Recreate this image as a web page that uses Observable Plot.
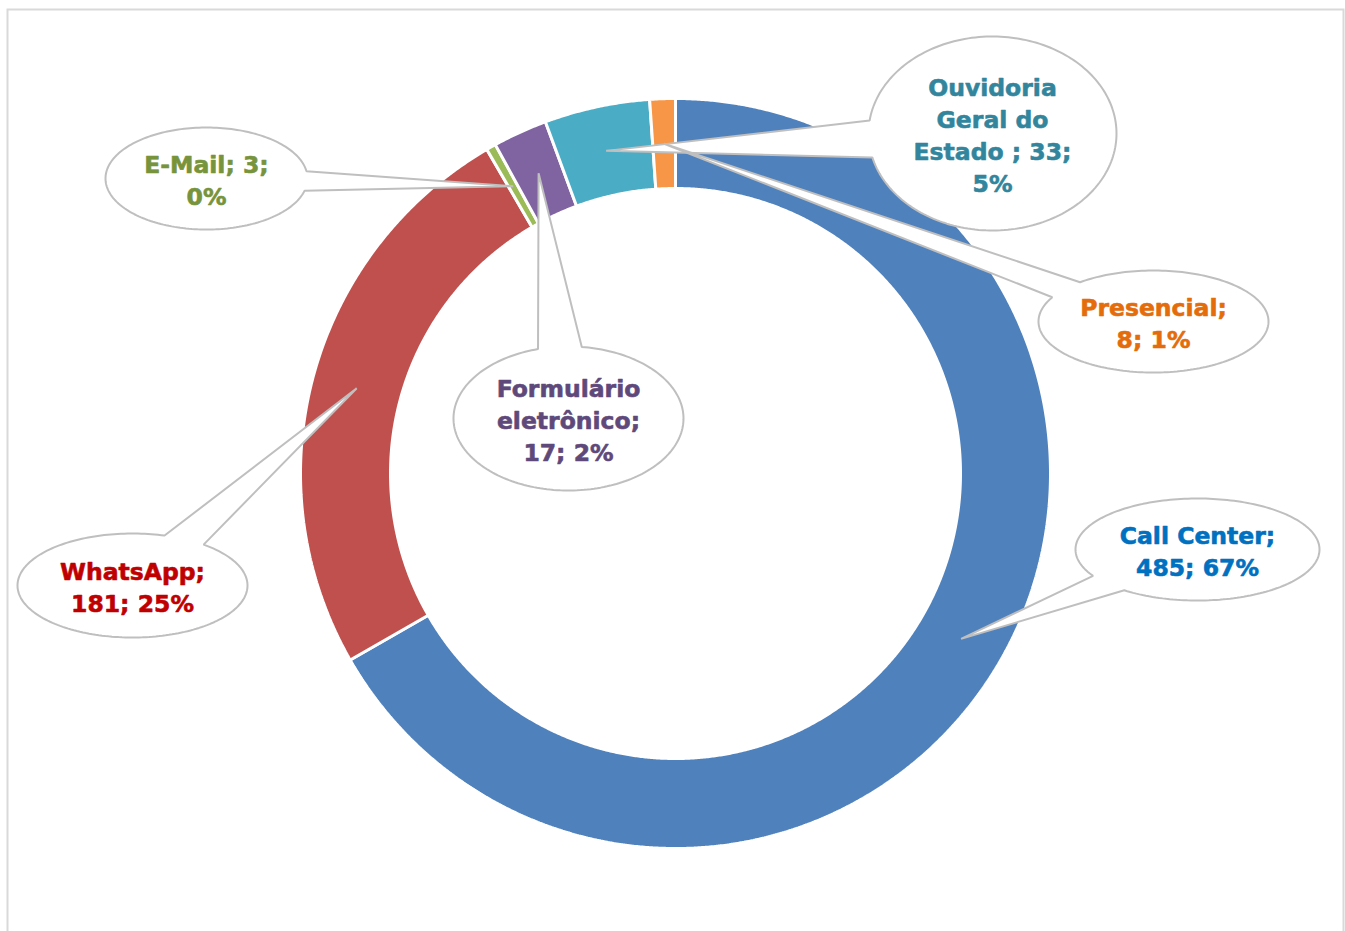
<!DOCTYPE html>
<html>
<head>
<meta charset="utf-8">
<script src="https://cdn.jsdelivr.net/npm/d3@7"></script>
<script src="https://cdn.jsdelivr.net/npm/@observablehq/plot@0.6"></script>
<style>
  html, body { margin: 0; padding: 0; background: #fff; }
  #chart svg { display: block; }
</style>
</head>
<body>
<div id="chart"></div>
<script>
// ---- data ----
const categories = ["Call Center", "WhatsApp", "E-Mail", "Formulário eletrônico", "Ouvidoria Geral do Estado", "Presencial"];
const values = [485, 181, 3, 17, 33, 8];
const labels = [
  "Call Center;\n485; 67%",
  "WhatsApp;\n181; 25%",
  "E-Mail; 3;\n0%",
  "Formulário\neletrônico;\n17; 2%",
  "Ouvidoria\nGeral do\nEstado ; 33;\n5%",
  "Presencial;\n8; 1%"
];
const sliceColors = ["#4F81BD", "#C0504D", "#9BBB59", "#8064A2", "#4BACC6", "#F79646"];
const labelColors = ["#0070C0", "#C00000", "#77933C", "#5F497A", "#31859C", "#E46C0A"];
// callout ellipse layout (center x, center y, rx, ry)
const calloutBoxes = [
  [1197, 549, 122, 51],
  [132, 585, 115, 52],
  [206, 178, 101, 51],
  [568, 418, 115, 72],
  [992, 133, 124, 97],
  [1153, 321, 115, 51]
];

// ---- geometry ----
const W = 1345, H = 931;
const CX = 675, CY = 473, R_OUT = 375, R_IN = 285;
const pie = d3.pie().sort(null).value(d => d)(values);
const pt = (r, a) => [CX + r * Math.sin(a), CY - r * Math.cos(a)];

const slicePts = [];
pie.forEach((p, i) => {
  const n = Math.max(4, Math.ceil((p.endAngle - p.startAngle) / 0.005));
  for (let k = 0; k <= n; k++) {
    const a = p.startAngle + (p.endAngle - p.startAngle) * k / n;
    const [x, y] = pt(R_OUT, a);
    slicePts.push({x, y, z: i, fill: sliceColors[i]});
  }
  for (let k = n; k >= 0; k--) {
    const a = p.startAngle + (p.endAngle - p.startAngle) * k / n;
    const [x, y] = pt(R_IN, a);
    slicePts.push({x, y, z: i, fill: sliceColors[i]});
  }
});

// callouts: ellipse with wedge tail pointing at slice centroid
const calloutPts = [];
const tips = pie.map(p => pt((R_OUT + R_IN) / 2, (p.startAngle + p.endAngle) / 2));
calloutBoxes.forEach(([cx, cy, rx, ry], i) => {
  const [tx, ty] = tips[i];
  const pang = Math.atan2((ty - cy) / ry, (tx - cx) / rx);
  const half = 11 * Math.PI / 180;
  const start = pang + half, span = 2 * Math.PI - 2 * half;
  const n = 200;
  for (let k = 0; k <= n; k++) {
    const t = start + span * k / n;
    calloutPts.push({x: cx + rx * Math.cos(t), y: cy + ry * Math.sin(t), z: i});
  }
  calloutPts.push({x: tx, y: ty, z: i});
});

const labelData = calloutBoxes.map(([cx, cy], i) => ({x: cx, y: cy, text: labels[i], fill: labelColors[i]}));

const chart = Plot.plot({
  width: W,
  height: H,
  margin: 0,
  x: {domain: [0, W], range: [0, W], axis: null},
  y: {domain: [0, H], range: [0, H], axis: null},
  color: {type: "identity"},
  style: {background: "#fff"},
  marks: [
    Plot.frame({stroke: "#d9d9d9", strokeWidth: 2, insetLeft: 7, insetTop: 9, insetRight: 2, insetBottom: -10}),
    Plot.line(slicePts, {x: "x", y: "y", z: "z", fill: "fill", stroke: "#ffffff", strokeWidth: 3, curve: "linear-closed", strokeLinejoin: "miter"}),
    Plot.line(calloutPts, {x: "x", y: "y", z: "z", fill: "#ffffff", stroke: "#bfbfbf", strokeWidth: 2, curve: "linear-closed", strokeLinejoin: "miter"}),
    Plot.text(labelData, {x: "x", y: "y", text: "text", fill: "fill", stroke: "fill", strokeWidth: 0.6, fontSize: 23.5, fontWeight: "bold", fontFamily: "DejaVu Sans", lineHeight: 1.36, textAnchor: "middle"})
  ]
});
document.getElementById("chart").appendChild(chart);
</script>
</body>
</html>
